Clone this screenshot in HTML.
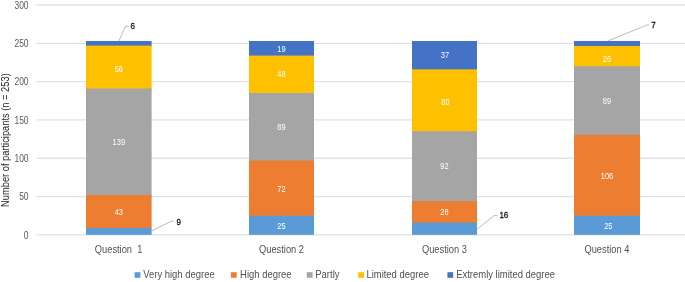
<!DOCTYPE html><html><head><meta charset="utf-8"><style>html,body{margin:0;padding:0;background:#fff;width:685px;height:282px;overflow:hidden}svg{display:block;will-change:transform}text{font-family:"Liberation Sans",sans-serif}</style></head><body>
<svg width="685" height="282" viewBox="0 0 685 282">
<line x1="36.6" y1="234.85" x2="685" y2="234.85" stroke="#E2E2E2" stroke-width="1.3"/>
<line x1="36.6" y1="196.54" x2="685" y2="196.54" stroke="#E2E2E2" stroke-width="1.3"/>
<line x1="36.6" y1="158.24" x2="685" y2="158.24" stroke="#E2E2E2" stroke-width="1.3"/>
<line x1="36.6" y1="119.93" x2="685" y2="119.93" stroke="#E2E2E2" stroke-width="1.3"/>
<line x1="36.6" y1="81.62" x2="685" y2="81.62" stroke="#E2E2E2" stroke-width="1.3"/>
<line x1="36.6" y1="43.31" x2="685" y2="43.31" stroke="#E2E2E2" stroke-width="1.3"/>
<line x1="36.6" y1="5.01" x2="685" y2="5.01" stroke="#E2E2E2" stroke-width="1.3"/>
<text transform="translate(28.60,238.70) scale(0.74,1)" text-anchor="end" font-size="11.5" fill="#5A5A5A">0</text>
<text transform="translate(28.60,200.39) scale(0.74,1)" text-anchor="end" font-size="11.5" fill="#5A5A5A">50</text>
<text transform="translate(28.60,162.09) scale(0.74,1)" text-anchor="end" font-size="11.5" fill="#5A5A5A">100</text>
<text transform="translate(28.60,123.78) scale(0.74,1)" text-anchor="end" font-size="11.5" fill="#5A5A5A">150</text>
<text transform="translate(28.60,85.47) scale(0.74,1)" text-anchor="end" font-size="11.5" fill="#5A5A5A">200</text>
<text transform="translate(28.60,47.16) scale(0.74,1)" text-anchor="end" font-size="11.5" fill="#5A5A5A">250</text>
<text transform="translate(28.60,8.86) scale(0.74,1)" text-anchor="end" font-size="11.5" fill="#5A5A5A">300</text>
<rect x="86" y="41.02" width="65.60" height="5.60" fill="#4472C4"/>
<rect x="86" y="45.61" width="65.60" height="43.90" fill="#FFC000"/>
<rect x="86" y="88.52" width="65.60" height="107.49" fill="#A5A5A5"/>
<rect x="86" y="195.01" width="65.60" height="33.94" fill="#ED7D31"/>
<rect x="86" y="227.95" width="65.60" height="6.90" fill="#5B9BD5"/>
<rect x="249" y="41.02" width="65.00" height="15.56" fill="#4472C4"/>
<rect x="249" y="55.57" width="65.00" height="38.42" fill="#FFC000"/>
<rect x="249" y="93.00" width="65.00" height="68.54" fill="#A5A5A5"/>
<rect x="249" y="160.53" width="65.00" height="56.16" fill="#ED7D31"/>
<rect x="249" y="215.70" width="65.00" height="19.15" fill="#5B9BD5"/>
<rect x="412" y="41.02" width="65.00" height="29.35" fill="#4472C4"/>
<rect x="412" y="69.36" width="65.00" height="62.89" fill="#FFC000"/>
<rect x="412" y="131.25" width="65.00" height="70.88" fill="#A5A5A5"/>
<rect x="412" y="201.14" width="65.00" height="22.45" fill="#ED7D31"/>
<rect x="412" y="222.59" width="65.00" height="12.26" fill="#5B9BD5"/>
<rect x="574" y="41.02" width="66.00" height="5.96" fill="#4472C4"/>
<rect x="574" y="45.98" width="66.00" height="21.32" fill="#FFC000"/>
<rect x="574" y="66.30" width="66.00" height="69.59" fill="#A5A5A5"/>
<rect x="574" y="134.89" width="66.00" height="81.81" fill="#ED7D31"/>
<rect x="574" y="215.70" width="66.00" height="19.15" fill="#5B9BD5"/>
<text transform="translate(118.80,214.98) scale(0.83,1)" text-anchor="middle" font-size="9.0" fill="#FFFFFF">43</text>
<text transform="translate(118.80,145.26) scale(0.83,1)" text-anchor="middle" font-size="9.0" fill="#FFFFFF">139</text>
<text transform="translate(118.80,71.97) scale(0.83,1)" text-anchor="middle" font-size="9.0" fill="#FFFFFF">56</text>
<text transform="translate(281.50,228.77) scale(0.83,1)" text-anchor="middle" font-size="9.0" fill="#FFFFFF">25</text>
<text transform="translate(281.50,191.62) scale(0.83,1)" text-anchor="middle" font-size="9.0" fill="#FFFFFF">72</text>
<text transform="translate(281.50,129.94) scale(0.83,1)" text-anchor="middle" font-size="9.0" fill="#FFFFFF">89</text>
<text transform="translate(281.50,77.46) scale(0.83,1)" text-anchor="middle" font-size="9.0" fill="#FFFFFF">48</text>
<text transform="translate(281.50,51.79) scale(0.83,1)" text-anchor="middle" font-size="9.0" fill="#FFFFFF">19</text>
<text transform="translate(444.50,215.37) scale(0.83,1)" text-anchor="middle" font-size="9.0" fill="#FFFFFF">28</text>
<text transform="translate(444.50,169.40) scale(0.83,1)" text-anchor="middle" font-size="9.0" fill="#FFFFFF">92</text>
<text transform="translate(445.50,104.61) scale(0.83,1)" text-anchor="middle" font-size="9.0" fill="#FFFFFF">80</text>
<text transform="translate(445.00,58.39) scale(0.83,1)" text-anchor="middle" font-size="9.0" fill="#FFFFFF">37</text>
<text transform="translate(608.30,229.27) scale(0.83,1)" text-anchor="middle" font-size="9.0" fill="#FFFFFF">25</text>
<text transform="translate(607.00,178.59) scale(0.83,1)" text-anchor="middle" font-size="9.0" fill="#FFFFFF">106</text>
<text transform="translate(607.00,103.89) scale(0.83,1)" text-anchor="middle" font-size="9.0" fill="#FFFFFF">89</text>
<text transform="translate(607.00,61.74) scale(0.83,1)" text-anchor="middle" font-size="9.0" fill="#FFFFFF">26</text>
<polyline points="118.8,41.2 125.3,26.3 128.6,26.3" fill="none" stroke="#A6A6A6" stroke-width="0.75"/>
<text stroke="#111111" stroke-width="0.3" transform="translate(130.40,29.00) scale(0.83,1)" font-size="9.6" fill="#111111">6</text>
<polyline points="151.6,231.0 171.1,221.3 173.5,221.3" fill="none" stroke="#A6A6A6" stroke-width="0.75"/>
<text stroke="#111111" stroke-width="0.3" transform="translate(176.50,224.80) scale(0.83,1)" font-size="9.6" fill="#111111">9</text>
<polyline points="477.0,229.2 494.3,215.5 497.5,215.5" fill="none" stroke="#A6A6A6" stroke-width="0.75"/>
<text stroke="#111111" stroke-width="0.3" transform="translate(499.40,218.30) scale(0.83,1)" font-size="9.6" fill="#111111">16</text>
<polyline points="607.6,41.0 647.3,24.9 649.1,24.9" fill="none" stroke="#A6A6A6" stroke-width="0.75"/>
<text stroke="#111111" stroke-width="0.3" transform="translate(651.20,27.90) scale(0.83,1)" font-size="9.6" fill="#111111">7</text>
<text transform="translate(118.60,253.00) scale(0.845,1)" text-anchor="middle" font-size="11.0" fill="#505050">Question  1</text>
<text transform="translate(281.50,253.00) scale(0.845,1)" text-anchor="middle" font-size="11.0" fill="#505050">Question 2</text>
<text transform="translate(444.40,253.00) scale(0.845,1)" text-anchor="middle" font-size="11.0" fill="#505050">Question 3</text>
<text transform="translate(606.90,253.00) scale(0.845,1)" text-anchor="middle" font-size="11.0" fill="#505050">Question 4</text>
<text transform="translate(9.20,140.10) rotate(-90) scale(0.81,1)" text-anchor="middle" font-size="11.5" fill="#262626">Number of participants (n = 253)</text>
<rect x="134.6" y="272.2" width="5.8" height="5.6" fill="#5B9BD5"/>
<text transform="translate(143.20,278.40) scale(0.845,1)" font-size="11.2" fill="#505050">Very high degree</text>
<rect x="230.9" y="272.2" width="5.8" height="5.6" fill="#ED7D31"/>
<text transform="translate(240.10,278.40) scale(0.845,1)" font-size="11.2" fill="#505050">High degree</text>
<rect x="306.8" y="272.2" width="5.8" height="5.6" fill="#A5A5A5"/>
<text transform="translate(315.30,278.40) scale(0.845,1)" font-size="11.2" fill="#505050">Partly</text>
<rect x="358.2" y="272.2" width="5.8" height="5.6" fill="#FFC000"/>
<text transform="translate(366.40,278.40) scale(0.845,1)" font-size="11.2" fill="#505050">Limited degree</text>
<rect x="447.4" y="272.2" width="5.8" height="5.6" fill="#4472C4"/>
<text transform="translate(456.20,278.40) scale(0.845,1)" font-size="11.2" fill="#505050">Extremly limited degree</text>
</svg></body></html>
